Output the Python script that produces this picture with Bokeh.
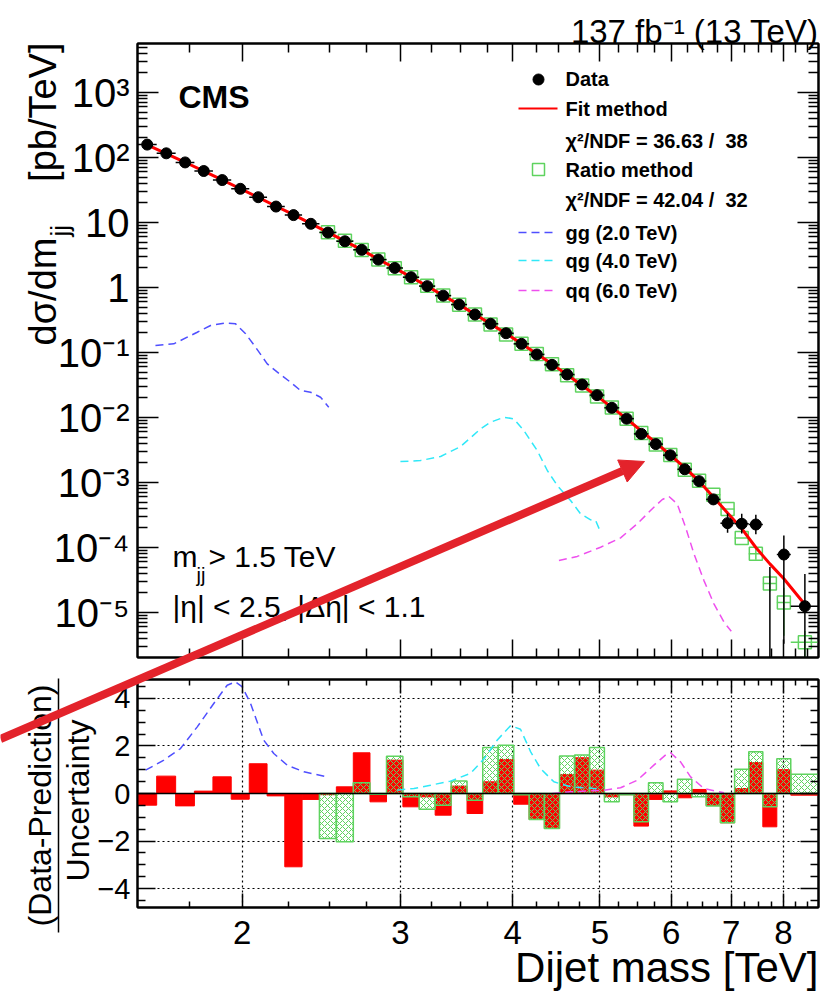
import numpy as np
from bokeh.plotting import figure
from bokeh.layouts import column
from bokeh.models import (Range1d, LinearScale, FixedTicker, LogAxis, LinearAxis,
                          CustomJSTickFormatter, Label, Arrow, NormalHead, Span)
from bokeh.embed import file_html
from bokeh.resources import INLINE

# ------------------------------------------------------------------ data
bin_edges_tev = [1.530, 1.607, 1.687, 1.770, 1.856, 1.945, 2.037, 2.132, 2.231, 2.332,
                 2.438, 2.546, 2.659, 2.775, 2.895, 3.019, 3.147, 3.279, 3.416, 3.558,
                 3.704, 3.854, 4.010, 4.171, 4.337, 4.509, 4.686, 4.869, 5.058, 5.253,
                 5.455, 5.663, 5.877, 6.099, 6.328, 6.564, 6.808, 7.060, 7.320, 7.589,
                 7.866, 8.152, 8.752]

# measured dsigma/dm (pb/TeV), one per bin (None = empty bin)
data_xsec = [158, 116, 84, 62, 45, 33, 24.5, 17.6, 13.0, 9.55,
             7.0, 5.15, 3.8, 2.69, 2.0, 1.44, 1.05, 0.75, 0.547, 0.384,
             0.277, 0.198, 0.136, 0.0933, 0.0646, 0.0459, 0.0322, 0.0221, 0.0141, 0.0096,
             0.0056, 0.0039, 0.00263, 0.0016, 0.00105, 5.5e-4, 2.37e-4, 2.32e-4, 2.26e-4, None,
             7.8e-5, 1.25e-5]
# visible vertical error bars (low, high) of the data, by bin index
data_err_tail = {34: (9.5e-4, 1.16e-3), 35: (4.9e-4, 6.2e-4), 36: (1.68e-4, 3.35e-4),
                 37: (1.65e-4, 3.3e-4), 38: (1.6e-4, 3.2e-4), 39: (1e-7, 5.0e-5),
                 40: (3.3e-6, 1.53e-4), 41: (1e-7, 3.9e-5)}

# fit method prediction at bin centres
fit_xsec = [156, 115, 84.5, 61.8, 45.3, 33.1, 24.3, 17.8, 13.2, 9.6,
            7.05, 5.18, 3.8, 2.72, 1.99, 1.45, 1.05, 0.755, 0.545, 0.388,
            0.276, 0.196, 0.137, 0.0955, 0.0663, 0.0455, 0.0311, 0.0213, 0.0143, 0.0096,
            0.0062, 0.0041, 0.00265, 0.0017, 0.00105, 6.0e-4, 3.4e-4, 1.95e-4, 1.0e-4, 5.6e-5,
            3.3e-5, 1.33e-5]

# ratio method prediction, bins 10..41
ratio_first_bin = 10
ratio_xsec = [7.1, 5.25, 3.78, 2.69, 1.97, 1.44, 1.06, 0.755, 0.545, 0.385,
              0.27, 0.19, 0.136, 0.0945, 0.066, 0.0445, 0.031, 0.021, 0.0142, 0.0096,
              0.0058, 0.00385, 0.00265, 0.00157, 0.00106, 6.5e-4, 3.9e-4, 1.4e-4, 8.0e-5, 2.8e-5,
              1.43e-5, 3.5e-6]
ratio_err_tail = {38: (6.5e-5, 9.8e-5), 39: (2.1e-5, 3.7e-5), 40: (4.4e-6, 2.4e-5),
                  41: (1e-7, 5.2e-6)}

# (Data-Prediction)/Uncertainty
fit_pull = [-0.49, 0.73, -0.52, 0.10, 0.70, -0.24, 1.25, -0.10, -3.08, -0.25,
            -0.05, 0.28, 1.71, -0.35, 1.40, -0.56, -0.14, -0.91, 0.31, -0.84,
            0.49, 1.43, -0.45, -1.09, -1.47, 0.80, 1.50, 0.98, -0.14, -0.05,
            -1.37, -0.25, 0.11, -0.18, 0.17, -0.50, -1.23, 0.21, 1.30, -1.40,
            1.00, -0.07]
ratio_pull = [-1.89, -2.03, 0.45, -0.03, 1.57, -0.14, -0.66, -0.49, 0.52, -0.28,
              1.93, 2.03, -0.05, -1.09, -1.47, 1.58, 1.62, 1.93, -0.35, -0.05,
              -1.19, 0.45, -0.35, 0.60, -0.14, -0.53, -1.23, 1.02, 1.75, -0.56,
              1.46, 0.81]

# signal shapes (top panel, pb/TeV)
gg_mass = [1.602, 1.679, 1.783, 1.845, 1.917, 1.967, 2.018, 2.070, 2.133, 2.189, 2.264, 2.323, 2.383, 2.445, 2.497]
gg_xsec = [0.128, 0.136, 0.205, 0.260, 0.286, 0.276, 0.194, 0.121, 0.067, 0.0498, 0.0349, 0.026, 0.0245, 0.0205, 0.0144]
qg_mass = [3.0, 3.159, 3.325, 3.5, 3.684, 3.779, 3.911, 4.011, 4.115, 4.259, 4.37, 4.483, 4.638, 4.759, 4.883, 4.946, 5.0]
qg_xsec = [0.0021, 0.00218, 0.00251, 0.00358, 0.0067, 0.00847, 0.0101, 0.00955, 0.0063, 0.0031,
           0.00153, 9.0e-4, 5.3e-4, 3.3e-4, 2.67e-4, 2.6e-4, 1.83e-4]
qq_mass = [4.502, 4.718, 5.009, 5.272, 5.503, 5.741, 5.867, 5.967, 6.095, 6.227, 6.362, 6.527, 6.696, 6.871, 7.0]
qq_xsec = [6.3e-5, 7.3e-5, 1.01e-4, 1.41e-4, 2.32e-4, 4.17e-4, 5.47e-4, 6.1e-4, 4.7e-4, 2.05e-4,
           8.0e-5, 3.1e-5, 1.36e-5, 7.1e-6, 5.15e-6]

# signal shapes (bottom panel, in units of uncertainty)
gg_pull_mass = [1.562, 1.637, 1.708, 1.783, 1.860, 1.925, 1.967, 2.001, 2.044, 2.114, 2.169, 2.245, 2.343, 2.487]
gg_pull = [0.98, 1.40, 1.89, 2.80, 3.78, 4.55, 4.69, 4.48, 3.78, 2.24, 1.68, 1.19, 0.91, 0.70]
qg_pull_mass = [2.976, 3.105, 3.241, 3.411, 3.591, 3.715, 3.845, 3.977, 4.08, 4.188, 4.295, 4.444, 4.638, 4.925, 5.009]
qg_pull = [0.14, 0.21, 0.35, 0.52, 0.85, 1.45, 2.25, 2.85, 2.70, 1.75, 1.05, 0.49, 0.28, 0.21, 0.20]
qq_pull_mass = [4.426, 4.638, 5.052, 5.272, 5.503, 5.741, 5.941, 5.992, 6.147, 6.307, 6.527, 6.871]
qq_pull = [0.0, 0.07, 0.14, 0.24, 0.56, 1.19, 1.68, 1.71, 1.33, 0.70, 0.21, 0.03]

mass_major_ticks = [2, 3, 4, 5, 6, 7, 8]
mass_minor_ticks = [1.75, 2.25, 2.5, 2.75, 3.25, 3.5, 3.75, 4.25, 4.5, 4.75, 5.25, 5.5, 5.75,
                    6.25, 6.5, 6.75, 7.25, 7.5, 7.75, 8.25, 8.5]
xsec_decades = [1e-6, 1e-5, 1e-4, 1e-3, 1e-2, 1e-1, 1, 10, 100, 1000]
pull_major_ticks = [-4, -2, 0, 2, 4]
pull_minor_ticks = [-4.5, -3.5, -3, -2.5, -1.5, -1, -0.5, 0.5, 1, 1.5, 2.5, 3, 3.5, 4.5]

# ------------------------------------------------------------------ style
FONT = "Liberation Sans"
RED = "#ff0000"
GREEN = "#5fd35f"
BLUE = "#4f4fff"
CYAN = "#30e8f8"
MAGENTA = "#ee4fee"
ARROW_RED = "#e3232b"
W, H = 822, 991
H_TOP, H_BOT = 670, 321
FL, FR = 137, 818                 # frame left / right (page px)
T1, B1 = 43, 657                  # top panel frame
T2, B2 = 679, 907                 # bottom panel frame (page px)

edges = np.array(bin_edges_tev)
lo, hi = edges[:-1], edges[1:]
ctr = 0.5 * (lo + hi)
dat = np.array([np.nan if v is None else v for v in data_xsec], dtype=float)


def style_axis(ax, major, minor, font_size=None, standoff=0):
    ax.major_tick_in = major
    ax.major_tick_out = 0
    ax.minor_tick_in = minor
    ax.minor_tick_out = 0
    ax.axis_line_color = "black"
    ax.axis_line_width = 2
    ax.major_tick_line_color = "black"
    ax.major_tick_line_width = 1.5
    ax.minor_tick_line_color = "black"
    ax.minor_tick_line_width = 1.5
    ax.axis_label = None
    if font_size is None:
        ax.formatter = CustomJSTickFormatter(code="return '';")
        ax.major_label_text_font_size = "1px"
        ax.major_label_standoff = 0
    else:
        ax.major_label_text_font = FONT
        ax.major_label_text_font_size = font_size
        ax.major_label_standoff = standoff
        ax.major_label_text_color = "black"


def make_fig(height, y_type, y_range, top_b, bot_b, ftop, fbot):
    p = figure(width=W, height=height, x_axis_type="log", y_axis_type=y_type,
               x_range=Range1d(bin_edges_tev[0], bin_edges_tev[-1]), y_range=y_range,
               output_backend="svg", toolbar_location=None,
               min_border_left=FL, min_border_right=W - FR,
               min_border_top=top_b, min_border_bottom=bot_b)
    p.extra_x_ranges = {"px": Range1d(FL, FR)}
    p.extra_y_ranges = {"px": Range1d(fbot, ftop)}
    p.extra_x_scales = {"px": LinearScale()}
    p.extra_y_scales = {"px": LinearScale()}
    p.outline_line_color = "black"
    p.outline_line_width = 2
    p.background_fill_color = "white"
    p.border_fill_color = "white"
    return p


def mass_ticker():
    return FixedTicker(ticks=mass_major_ticks, minor_ticks=mass_minor_ticks)


def label(p, x, y, text, size, bold=False, align="left", angle=0.0):
    p.add_layout(Label(x=x, y=y, x_units="canvas", y_units="canvas", text=text,
                       text_font=FONT, text_font_size=f"{size}px",
                       text_font_style="bold" if bold else "normal",
                       text_align=align, text_baseline="middle", angle=angle,
                       text_color="black"))


# ------------------------------------------------------------------ top panel
p1 = make_fig(H_TOP, "log", Range1d(10 ** -5.692, 10 ** 3.754), T1, H_TOP - B1, T1, B1)
p1.xgrid.visible = False
p1.ygrid.visible = False

xsec_minor = [m * d for d in xsec_decades for m in range(2, 10)]
pow_fmt = CustomJSTickFormatter(code="""
const e = Math.round(Math.log10(tick));
if (e === 0) return "1";
if (e === 1) return "10";
const sup = {"-": "\\u207b", "0": "\\u2070", "1": "\\u00b9", "2": "\\u00b2", "3": "\\u00b3",
             "4": "\\u2074", "5": "\\u2075", "6": "\\u2076", "7": "\\u2077", "8": "\\u2078", "9": "\\u2079"};
return "10" + String(e).split("").map(c => sup[c]).join("");
""")
p1.xaxis[0].ticker = mass_ticker()
style_axis(p1.xaxis[0], 18, 9)
p1.yaxis[0].ticker = FixedTicker(ticks=xsec_decades[1:], minor_ticks=xsec_minor)
p1.yaxis[0].formatter = pow_fmt
style_axis(p1.yaxis[0], 21, 10, "40px", 8)
ax_top = LogAxis(ticker=mass_ticker())
style_axis(ax_top, 18, 9)
p1.add_layout(ax_top, "above")
ax_r = LogAxis(ticker=FixedTicker(ticks=xsec_decades[1:], minor_ticks=xsec_minor))
style_axis(ax_r, 21, 10)
p1.add_layout(ax_r, "right")

# ratio method (green open squares + error bars)
rlo, rhi = lo[ratio_first_bin:], hi[ratio_first_bin:]
rctr = ctr[ratio_first_bin:]
rx = np.array(ratio_xsec)
p1.segment(x0=rlo, y0=rx, x1=rhi, y1=rx, line_color=GREEN, line_width=1.5)
for i, (a, b) in ratio_err_tail.items():
    p1.segment(x0=[ctr[i]], y0=[a], x1=[ctr[i]], y1=[b], line_color=GREEN, line_width=1.5)
p1.scatter(rctr, rx, marker="square", size=13, fill_color=None, line_color=GREEN, line_width=1.5)

# signals
p1.line(gg_mass, gg_xsec, line_color=BLUE, line_width=1.5, line_dash="8 5")
p1.line(qg_mass, qg_xsec, line_color=CYAN, line_width=1.5, line_dash="8 5")
p1.line(qq_mass, qq_xsec, line_color=MAGENTA, line_width=1.5, line_dash="8 5")

# fit
p1.line(ctr, fit_xsec, line_color=RED, line_width=3)

# data
p1.segment(x0=lo, y0=dat, x1=hi, y1=dat, line_color="black", line_width=1.5)
for i, (a, b) in data_err_tail.items():
    p1.segment(x0=[ctr[i]], y0=[a], x1=[ctr[i]], y1=[b], line_color="black", line_width=1.5)
p1.scatter(ctr, dat, marker="circle", size=11, color="black")

# legend (pixel coordinates inside the frame)
p1.scatter([538], [79], x_range_name="px", y_range_name="px", size=11, color="black")
p1.line([518, 557], [108, 108], x_range_name="px", y_range_name="px", line_color=RED, line_width=2)
p1.scatter([538], [169], x_range_name="px", y_range_name="px", marker="square", size=12,
           fill_color=None, line_color=GREEN, line_width=1.5)
for yy, col in [(232, BLUE), (260, CYAN), (290, MAGENTA)]:
    p1.line([518, 557], [yy, yy], x_range_name="px", y_range_name="px", line_color=col,
            line_width=1.5, line_dash="8 5")
for yy, txt in [(78, "Data"), (108, "Fit method"), (140, "\u03c7\u00b2/NDF = 36.63 /\u00a0 38"),
                (169, "Ratio method"), (199, "\u03c7\u00b2/NDF = 42.04 /\u00a0 32"),
                (232, "gg (2.0 TeV)"), (260, "qg (4.0 TeV)"), (290, "qq (6.0 TeV)")]:
    label(p1, 565, yy, txt, 20, bold=True)

label(p1, 178, 96, "CMS", 32, bold=True)
label(p1, 172, 556, "m", 30)
label(p1, 196, 574, "jj", 20)
label(p1, 208, 556, " > 1.5 TeV", 30)
label(p1, 172, 606, "|\u03b7| < 2.5, |\u0394\u03b7| < 1.1", 30)

# ------------------------------------------------------------------ bottom panel
p2 = make_fig(H_BOT, "linear", Range1d(-4.79, 4.79), T2 - H_TOP, H - B2, T2, B2)
p2.extra_y_ranges = {"px": Range1d(B2 - H_TOP, T2 - H_TOP)}

int_fmt = CustomJSTickFormatter(code="return String(Math.round(tick));")
minus_fmt = CustomJSTickFormatter(code='return tick < 0 ? "\\u2212" + String(Math.abs(tick)) : String(tick);')
mt = mass_ticker()
p2.xaxis[0].ticker = mt
p2.xaxis[0].formatter = int_fmt
style_axis(p2.xaxis[0], 14, 6, "33px", 13)
pt = FixedTicker(ticks=pull_major_ticks, minor_ticks=pull_minor_ticks)
p2.yaxis[0].ticker = pt
p2.yaxis[0].formatter = minus_fmt
style_axis(p2.yaxis[0], 18, 8, "29px", 7)
ax2_top = LogAxis(ticker=mass_ticker())
style_axis(ax2_top, 14, 6)
p2.add_layout(ax2_top, "above")
ax2_r = LinearAxis(ticker=FixedTicker(ticks=pull_major_ticks, minor_ticks=pull_minor_ticks))
style_axis(ax2_r, 18, 8)
p2.add_layout(ax2_r, "right")
p2.xgrid.ticker = mt
p2.ygrid.ticker = pt
for g in (p2.xgrid, p2.ygrid):
    g.grid_line_color = "black"
    g.grid_line_dash = "2 3"
    g.grid_line_width = 1.2

fp = np.array(fit_pull)
p2.quad(left=lo, right=hi, bottom=np.minimum(fp, 0), top=np.maximum(fp, 0),
        fill_color=RED, line_color=RED, line_width=1)
rp = np.array(ratio_pull)
p2.quad(left=rlo, right=rhi, bottom=np.minimum(rp, 0), top=np.maximum(rp, 0),
        fill_color=None, hatch_pattern="diagonal_cross", hatch_color=GREEN, hatch_scale=6,
        hatch_weight=1, line_color=GREEN, line_width=1.5)
p2.line(gg_pull_mass, gg_pull, line_color=BLUE, line_width=1.5, line_dash="8 5")
p2.line(qg_pull_mass, qg_pull, line_color=CYAN, line_width=1.5, line_dash="8 5")
p2.line(qq_pull_mass, qq_pull, line_color=MAGENTA, line_width=1.5, line_dash="8 5")
p2.add_layout(Span(location=0, dimension="width", line_color="black", line_width=1.5))

# ------------------------------------------------------------------ transparent overlay (page px)
p3 = figure(width=W, height=H, x_range=Range1d(0, W), y_range=Range1d(H, 0),
            x_axis_location=None, y_axis_location=None,
            output_backend="svg", toolbar_location=None,
            min_border_left=0, min_border_right=0, min_border_top=0, min_border_bottom=0)
p3.grid.visible = False
p3.outline_line_color = None
p3.background_fill_alpha = 0
p3.border_fill_alpha = 0
p3.styles = {"position": "absolute", "left": "0px", "top": "0px", "pointer-events": "none"}

label(p3, 818, 31, "137 fb\u207b\u00b9 (13 TeV)", 33, align="right")
# y title of the upper panel
label(p3, 42, 345, "d\u03c3/dm", 38, angle=np.pi / 2)
label(p3, 59, 236, "jj", 26, angle=np.pi / 2)
label(p3, 42, 42, "[pb/TeV]", 38, align="right", angle=np.pi / 2)
# y title of the lower panel
label(p3, 39, 805, "(Data-Prediction)", 32, align="center", angle=np.pi / 2)
label(p3, 77, 800, "Uncertainty", 32, align="center", angle=np.pi / 2)
p3.add_layout(Arrow(x_start=58, y_start=678, x_end=58, y_end=932, line_color="black",
                    line_width=1.5, start=None, end=None))
# x title
label(p3, 818, 967, "Dijet mass [TeV]", 42, align="right")
# red arrow drawn over the picture
p3.add_layout(Arrow(x_start=0, y_start=738.5, x_end=644, y_end=461, line_color=ARROW_RED,
                    line_width=8, start=None,
                    end=NormalHead(size=24, fill_color=ARROW_RED, line_color=ARROW_RED, line_width=1)))

layout = column(p1, p2, spacing=0)
open("out.html", "w").write(file_html([layout, p3], INLINE))
